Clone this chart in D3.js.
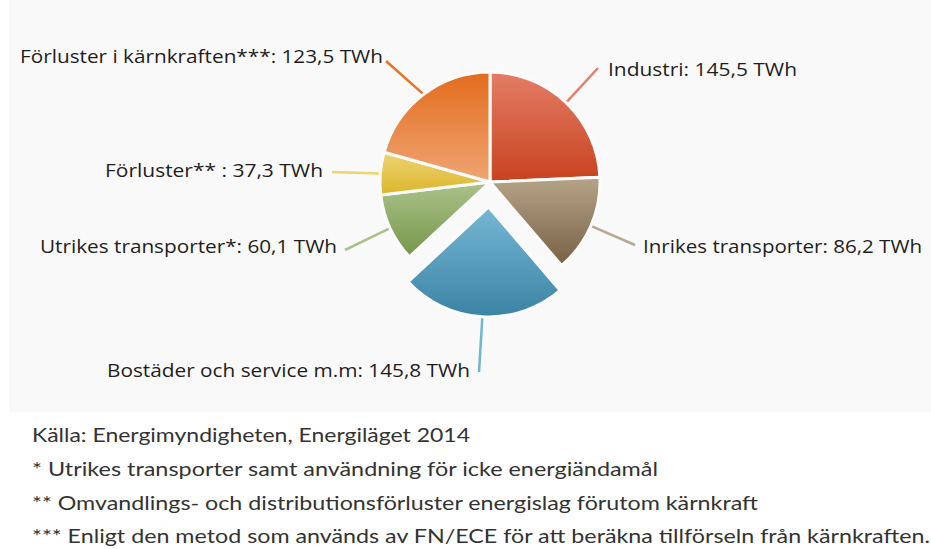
<!DOCTYPE html>
<html>
<head>
<meta charset="utf-8">
<script src="https://cdn.jsdelivr.net/npm/d3@7"></script>
<style>
  body { margin: 0; background: #ffffff; }
  svg { display: block; }
</style>
</head>
<body>
<svg id="chart" width="931" height="549"></svg>
<script>
// Slice categories and values (TWh), clockwise from 12 o'clock
const categories = [
  "Industri",
  "Inrikes transporter",
  "Bostäder och service m.m",
  "Utrikes transporter*",
  "Förluster** ",
  "Förluster i kärnkraften***"
];
const values = [145.5, 86.2, 145.8, 60.1, 37.3, 123.5];
const valueLabels = ["145,5", "86,2", "145,8", "60,1", "37,3", "123,5"];

const footnotes = [
  "Källa: Energimyndigheten, Energiläget 2014",
  "* Utrikes transporter samt användning för icke energiändamål",
  "** Omvandlings- och distributionsförluster energislag förutom kärnkraft",
  "*** Enligt den metod som används av FN/ECE för att beräkna tillförseln från kärnkraften."
];

// gradient colours per slice (top, bottom) and leader line colours
const gradTop = ["#e37d66", "#b6a488", "#77b7d4", "#abc28a", "#ecd473", "#e36c1c"];
const gradBottom = ["#c8431f", "#786045", "#3a83a5", "#76974a", "#dbb52a", "#efa574"];
const lineColors = ["#e5806b", "#b8a890", "#6fb4d3", "#a9c28b", "#ecd46e", "#e5732a"];

const width = 931, height = 549;
const cx = 490, cy = 182, radius = 110;
const explodeIndex = 2, explodeDist = 25;

// label placement: text x, baseline y, anchor, leader end point, target width
const labelPos = [
  { x: 608, y: 76, anchor: "start", lx: 598, ly: 68, w: 189 },
  { x: 643, y: 253, anchor: "start", lx: 635, ly: 245, w: 279 },
  { x: 470, y: 377, anchor: "end", lx: 479, ly: 372, w: 363 },
  { x: 337, y: 253, anchor: "end", lx: 345, ly: 250, w: 297 },
  { x: 323, y: 177, anchor: "end", lx: 332, ly: 172, w: 218 },
  { x: 383, y: 63, anchor: "end", lx: 386, ly: 61, w: 363 }
];
const footnoteWidths = [438, 626, 726, 898];

const svg = d3.select("#chart");

// light grey chart area
svg.append("rect")
  .attr("x", 9).attr("y", 0)
  .attr("width", width - 9).attr("height", 412)
  .attr("fill", "#f9f9f9");

const defs = svg.append("defs");
values.forEach((v, i) => {
  const g = defs.append("linearGradient")
    .attr("id", "grad" + i)
    .attr("x1", 0).attr("y1", 0).attr("x2", 0).attr("y2", 1);
  g.append("stop").attr("offset", "0%").attr("stop-color", gradTop[i]);
  g.append("stop").attr("offset", "100%").attr("stop-color", gradBottom[i]);
});

const pie = d3.pie().sort(null).value(d => d);
const arcs = pie(values);

const arc = d3.arc().innerRadius(0).outerRadius(radius);
const edgeArc = d3.arc().innerRadius(radius).outerRadius(radius);

const offsetOf = (d, i) => {
  if (i !== explodeIndex) return [0, 0];
  const a = (d.startAngle + d.endAngle) / 2;
  return [Math.sin(a) * explodeDist, -Math.cos(a) * explodeDist];
};

const g = svg.append("g").attr("transform", `translate(${cx},${cy})`);

// leader lines
g.selectAll(".leader")
  .data(arcs)
  .enter().append("line")
  .attr("class", "leader")
  .attr("x1", (d, i) => edgeArc.centroid(d)[0] + offsetOf(d, i)[0])
  .attr("y1", (d, i) => edgeArc.centroid(d)[1] + offsetOf(d, i)[1])
  .attr("x2", (d, i) => labelPos[i].lx - cx)
  .attr("y2", (d, i) => labelPos[i].ly - cy)
  .attr("stroke", (d, i) => lineColors[i])
  .attr("stroke-width", 2.5);

// slices
g.selectAll(".slice")
  .data(arcs)
  .enter().append("path")
  .attr("class", "slice")
  .attr("transform", (d, i) => `translate(${offsetOf(d, i)[0]},${offsetOf(d, i)[1]})`)
  .attr("d", arc)
  .attr("fill", (d, i) => `url(#grad${i})`)
  .attr("stroke", "#fbfbfb")
  .attr("stroke-width", 3)
  .attr("stroke-linejoin", "round");

// labels
svg.selectAll(".label")
  .data(arcs)
  .enter().append("text")
  .attr("class", "label")
  .attr("x", (d, i) => labelPos[i].x)
  .attr("y", (d, i) => labelPos[i].y)
  .attr("text-anchor", (d, i) => labelPos[i].anchor)
  .attr("textLength", (d, i) => labelPos[i].w)
  .attr("lengthAdjust", "spacingAndGlyphs")
  .attr("font-family", "'Open Sans', 'Noto Sans', sans-serif")
  .attr("font-size", "18px")
  .attr("fill", "#1e1e1e")
  .text((d, i) => `${categories[i]}: ${valueLabels[i]} TWh`);

// footnotes
svg.selectAll(".footnote")
  .data(footnotes)
  .enter().append("text")
  .attr("class", "footnote")
  .attr("x", 32)
  .attr("y", (d, i) => 442 + i * 33.8)
  .attr("textLength", (d, i) => footnoteWidths[i])
  .attr("lengthAdjust", "spacingAndGlyphs")
  .attr("font-family", "Lato, 'Noto Sans', sans-serif")
  .attr("font-size", "20px")
  .attr("fill", "#333333")
  .text(d => d);
</script>
</body>
</html>
